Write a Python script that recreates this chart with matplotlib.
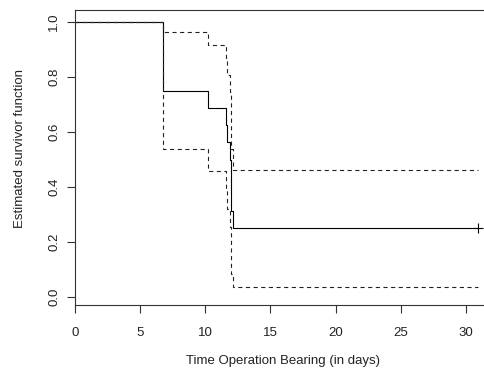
import matplotlib
matplotlib.use('Agg')
import matplotlib.pyplot as plt

# Kaplan-Meier estimate with plain confidence band
times = [0, 6.75, 10.2, 11.6, 11.7, 11.9, 12.0, 12.15, 30.9]
surv = [1.0, 0.75, 0.6875, 0.625, 0.5625, 0.5, 0.3125, 0.25, 0.25]
upper = [1.0, 0.962, 0.915, 0.862, 0.806, 0.745, 0.540, 0.462, 0.462]
lower = [1.0, 0.538, 0.460, 0.388, 0.319, 0.255, 0.085, 0.038, 0.038]
censor_t = [30.9]
censor_s = [0.25]

x_ticks = [0, 5, 10, 15, 20, 25, 30]
y_ticks = [0.0, 0.2, 0.4, 0.6, 0.8, 1.0]

plt.rcParams['font.family'] = ['Liberation Sans', 'DejaVu Sans']
plt.rcParams['lines.scale_dashes'] = False

W, H = 484, 371
fig = plt.figure(figsize=(W / 100, H / 100), dpi=100)

# axes box: left edge at x=75px, top 10px, bottom 305px, right edge off the picture
ax = fig.add_axes([75 / W, (H - 305) / H, 420 / W, 295 / H])
ax.set_xlim(0, 420 / 13.03)
ax.set_ylim(-0.029, 1.0436)

ax.step(times, surv, where='post', color='black', lw=0.8)
ax.step(times, upper, where='post', color='#222222', lw=0.8, dashes=(3, 2.5))
ax.step(times, lower, where='post', color='#222222', lw=0.8, dashes=(3, 2.5))
ax.plot(censor_t, censor_s, '+', color='black', ms=7, mew=0.8)

for s in ax.spines.values():
    s.set_linewidth(0.8)
    s.set_color('#333333')

ax.set_xticks(x_ticks)
ax.set_xticklabels([str(t) for t in x_ticks])
ax.set_yticks(y_ticks)
ax.set_yticklabels([f'{v:.1f}' for v in y_ticks], rotation=90, va='center')
ax.tick_params(length=5.5, width=0.8, color='#333333', labelsize=9.5,
               labelcolor='#222222', pad=10)
ax.tick_params(axis='y', pad=5)

fig.text(283 / W, (H - 361) / H, 'Time Operation Bearing (in days)',
         ha='center', va='center', fontsize=9.5, color='#222222')
fig.text(20 / W, (H - 149) / H, 'Estimated survivor function',
         ha='center', va='center', rotation=90, fontsize=9.5, color='#222222')

fig.savefig('out.png', dpi=100)
